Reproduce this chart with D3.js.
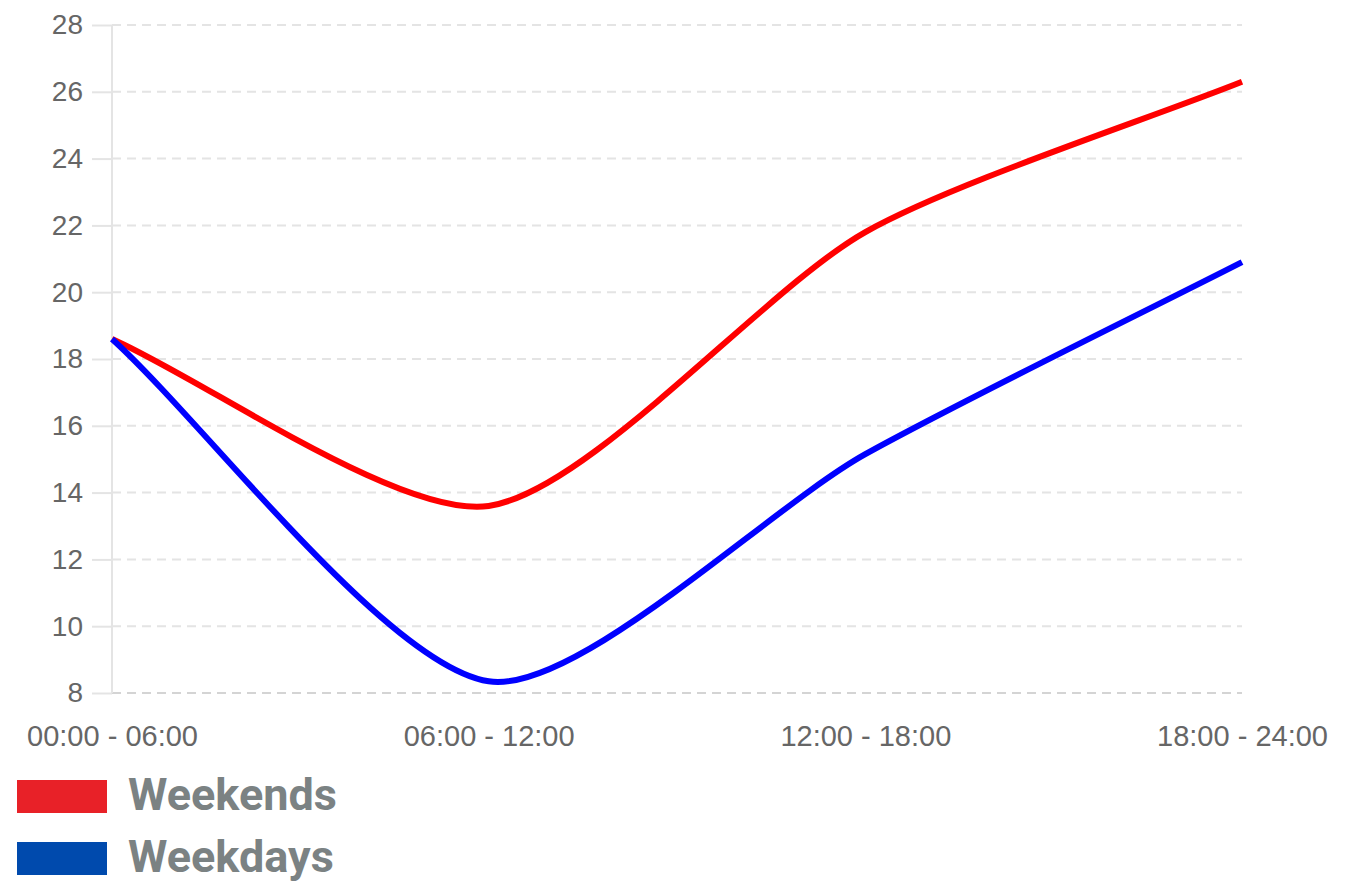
<!DOCTYPE html>
<html>
<head>
<meta charset="utf-8">
<script src="https://cdn.jsdelivr.net/npm/d3@7/dist/d3.min.js"></script>
<style>
  html, body { margin: 0; padding: 0; background: #ffffff; }
  svg { display: block; }
</style>
</head>
<body>
<svg id="chart" width="1360" height="883"></svg>
<script>
const categories = ["00:00 - 06:00", "06:00 - 12:00", "12:00 - 18:00", "18:00 - 24:00"];
const weekends = [18.6, 13.6, 21.8, 26.3];
const weekdays = [18.6, 8.35, 15.15, 20.9];
const yTicks = [8, 10, 12, 14, 16, 18, 20, 22, 24, 26, 28];
const seriesNames = ["Weekends", "Weekdays"];
const lineColors = ["#ff0000", "#0000ff"];
const legendColors = ["#e82128", "#004aad"];

const svg = d3.select("#chart");
const plotLeft = 112, plotRight = 1242, plotTop = 25, plotBottom = 693;

const x = d3.scalePoint().domain(categories).range([plotLeft, plotRight]);
const y = d3.scaleLinear().domain([8, 28]).range([plotBottom, plotTop]);

// grid lines
svg.append("g").selectAll("line").data(yTicks).join("line")
  .attr("x1", plotLeft).attr("x2", plotRight)
  .attr("y1", d => y(d)).attr("y2", d => y(d))
  .attr("stroke", d => d === 8 ? "#d4d4d4" : "#e4e4e4")
  .attr("stroke-width", 2)
  .attr("stroke-dasharray", "9,6");

// y axis
const yAxis = d3.axisLeft(y).tickValues(yTicks).tickSize(20).tickPadding(9).tickFormat(d3.format("d"));
const gy = svg.append("g").attr("transform", `translate(${plotLeft},0)`).call(yAxis);
gy.select(".domain").attr("stroke", "#e4e4e4").attr("stroke-width", 2).attr("d", `M0,${plotTop}V${plotBottom}`);
gy.selectAll(".tick line").attr("stroke", "#e4e4e4").attr("stroke-width", 2);
gy.selectAll(".tick text").attr("fill", "#666666")
  .style("font-family", "'Liberation Sans', Arial, sans-serif").style("font-size", "28px");

// x axis
const xAxis = d3.axisBottom(x).tickSize(0).tickPadding(0);
const gx = svg.append("g").attr("transform", `translate(0,${plotBottom})`).call(xAxis);
gx.select(".domain").remove();
gx.selectAll(".tick text").attr("fill", "#666666").attr("dy", null).attr("y", 53)
  .style("font-family", "'Liberation Sans', Arial, sans-serif").style("font-size", "29px");

// Chart.js-style spline as a custom d3 curve
function ChartJsCurve(context, tension) { this._context = context; this._t = tension; }
ChartJsCurve.prototype = {
  areaStart() {}, areaEnd() {},
  lineStart() { this._pts = []; },
  point(px, py) { this._pts.push([px, py]); },
  lineEnd() {
    const p = this._pts, n = p.length, t = this._t, ctx = this._context;
    const cps = p.map((cur, i) => {
      const prev = p[Math.max(0, i - 1)], next = p[Math.min(n - 1, i + 1)];
      const d01 = Math.hypot(cur[0] - prev[0], cur[1] - prev[1]);
      const d12 = Math.hypot(next[0] - cur[0], next[1] - cur[1]);
      let s01 = d01 / (d01 + d12), s12 = d12 / (d01 + d12);
      if (isNaN(s01)) s01 = 0; if (isNaN(s12)) s12 = 0;
      const fa = t * s01, fb = t * s12;
      return {
        prev: [cur[0] - fa * (next[0] - prev[0]), cur[1] - fa * (next[1] - prev[1])],
        next: [cur[0] + fb * (next[0] - prev[0]), cur[1] + fb * (next[1] - prev[1])]
      };
    });
    ctx.moveTo(p[0][0], p[0][1]);
    for (let i = 1; i < n; i++) {
      ctx.bezierCurveTo(cps[i - 1].next[0], cps[i - 1].next[1], cps[i].prev[0], cps[i].prev[1], p[i][0], p[i][1]);
    }
  }
};
const chartJsCurve = ctx => new ChartJsCurve(ctx, 0.25);

const line = d3.line()
  .x((d, i) => x(categories[i]))
  .y(d => y(d))
  .curve(chartJsCurve);

const series = [weekends, weekdays];
svg.append("g").selectAll("path").data([0, 1]).join("path")
  .attr("d", i => line(series[i]))
  .attr("fill", "none")
  .attr("stroke", i => lineColors[i])
  .attr("stroke-width", 6)
  .attr("stroke-linejoin", "round");

// legend
const lg = svg.append("g");
seriesNames.forEach((name, i) => {
  const yy = 780 + i * 62;
  lg.append("rect").attr("x", 17).attr("y", yy).attr("width", 90).attr("height", 33)
    .attr("fill", legendColors[i]);
  lg.append("text").attr("x", 128).attr("y", yy + 30)
    .attr("fill", "#7b8283")
    .style("font-family", "Roboto, sans-serif").style("font-weight", "700").style("font-size", "45px")
    .text(name);
});
</script>
</body>
</html>
